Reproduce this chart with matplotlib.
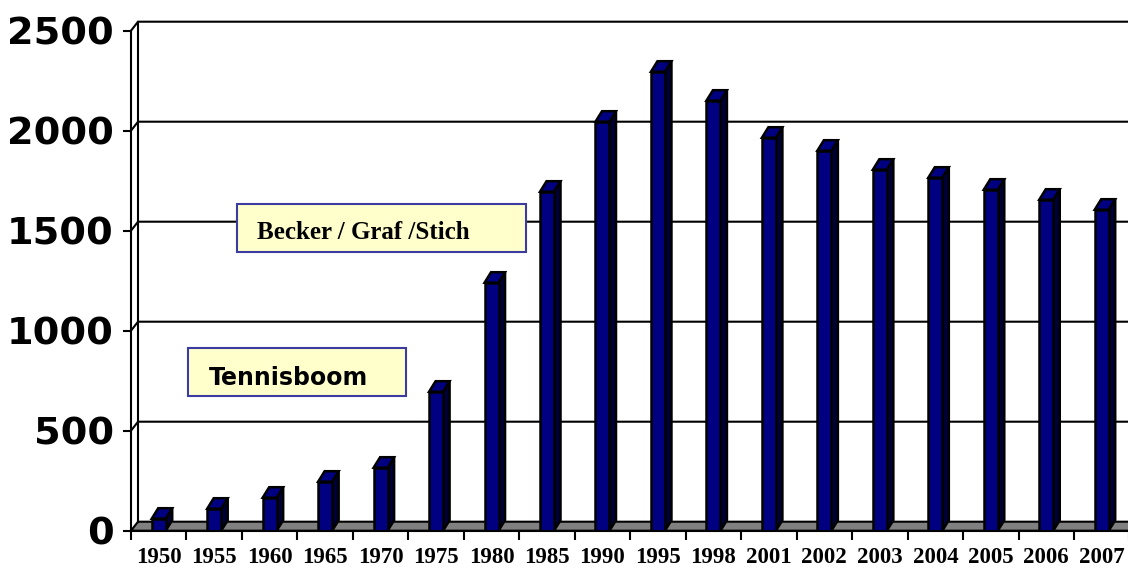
import matplotlib
matplotlib.use("Agg")
import matplotlib.pyplot as plt
from matplotlib.patches import Polygon, Rectangle

years = ["1950", "1955", "1960", "1965", "1970", "1975", "1980", "1985", "1990",
         "1995", "1998", "2001", "2002", "2003", "2004", "2005", "2006", "2007"]
values = [60, 110, 165, 245, 315, 695, 1240, 1695, 2045,
          2295, 2150, 1965, 1900, 1805, 1765, 1705, 1655, 1605]
yticks = [0, 500, 1000, 1500, 2000, 2500]

W, H = 1128, 568
fig = plt.figure(figsize=(W / 100, H / 100), dpi=100)
fig.patch.set_facecolor("white")

ncat = len(years)
cat_px = 55.47
x0_px = 131.0
y0_px = 530.7
unit_px = 0.2
ymax = 2600
ax = fig.add_axes([x0_px / W, (H - y0_px) / H, ncat * cat_px / W, ymax * unit_px / H])
ax.set_xlim(0, ncat)
ax.set_ylim(0, ymax)
ax.set_facecolor("none")

# depth offsets (data units)
wdx, wdy = 7.0 / cat_px, 9.0 / unit_px
bdx, bdy = 6.5 / cat_px, 10.5 / unit_px
hw = 7.0 / cat_px

lw = 1.5
blw = 1.8
# floor
ax.add_patch(Polygon([(0, 0), (ncat, 0), (ncat + wdx, wdy), (wdx, wdy)], closed=True,
                     facecolor="#808080", edgecolor="black", lw=lw, zorder=1, clip_on=False))
# back wall left edge and gridlines
ax.plot([wdx, wdx], [wdy, yticks[-1] + wdy], color="black", lw=lw, zorder=2, clip_on=False)
for v in yticks[1:]:
    ax.plot([0, wdx, ncat + wdx], [v, v + wdy, v + wdy], color="black", lw=lw,
            zorder=2, clip_on=False, solid_joinstyle="miter")

# bars
for i, v in enumerate(values):
    c = i + 0.5
    side = [(c + hw, 0), (c + hw + bdx, bdy), (c + hw + bdx, v + bdy), (c + hw, v)]
    top = [(c - hw, v), (c + hw, v), (c + hw + bdx, v + bdy), (c - hw + bdx, v + bdy)]
    ax.add_patch(Polygon(side, closed=True, facecolor="#000038", edgecolor="black",
                         lw=blw, zorder=3, joinstyle="miter"))
    ax.add_patch(Polygon(top, closed=True, facecolor="#000080", edgecolor="black",
                         lw=blw, zorder=3, joinstyle="miter"))
    ax.add_patch(Rectangle((c - hw, 0), 2 * hw, v, facecolor="#000080", edgecolor="black",
                           lw=blw, zorder=4, joinstyle="miter"))

# axes / ticks
for s in ["top", "right"]:
    ax.spines[s].set_visible(False)
ax.spines["left"].set_bounds(0, yticks[-1])
ax.spines["left"].set_linewidth(lw)
ax.spines["bottom"].set_linewidth(lw)
ax.spines["left"].set_zorder(5)
ax.spines["bottom"].set_zorder(5)

ax.set_yticks(yticks)
ax.set_yticklabels([str(t) for t in yticks], fontfamily="DejaVu Sans",
                   fontweight="bold", fontsize=27.5)
ax.tick_params(axis="y", direction="out", length=6, width=lw, pad=6.5)

ax.set_xticks(range(ncat + 1))
ax.set_xticklabels([""] * (ncat + 1))
ax.tick_params(axis="x", which="major", direction="out", length=6.5, width=lw)
ax.set_xticks([i + 0.5 for i in range(ncat)], minor=True)
ax.set_xticklabels(years, minor=True, fontfamily="Liberation Serif",
                   fontweight="bold", fontsize=16.5)
ax.tick_params(axis="x", which="minor", length=0, pad=12)

# annotation boxes
def px2x(px):
    return (px - x0_px) / cat_px

def px2y(py):
    return (y0_px - py) / unit_px

ax.add_patch(Rectangle((px2x(236.7), px2y(251.7)), px2x(525.7) - px2x(236.7),
                       px2y(204) - px2y(251.7), facecolor="#FFFFCC", edgecolor="#3C3CA0",
                       lw=1.5, zorder=6))
ax.text(px2x(257), px2y(239), "Becker / Graf /Stich", fontfamily="Liberation Serif",
        fontweight="bold", fontsize=18, va="baseline", ha="left", zorder=7)

ax.add_patch(Rectangle((px2x(188), px2y(395.7)), px2x(405.7) - px2x(188),
                       px2y(347.7) - px2y(395.7), facecolor="#FFFFCC", edgecolor="#3C3CA0",
                       lw=1.5, zorder=6))
ax.text(px2x(209), px2y(385), "Tennisboom", fontfamily="DejaVu Sans",
        fontweight="bold", fontsize=17, va="baseline", ha="left", zorder=7)

fig.savefig("out.png", dpi=100, facecolor="white")
